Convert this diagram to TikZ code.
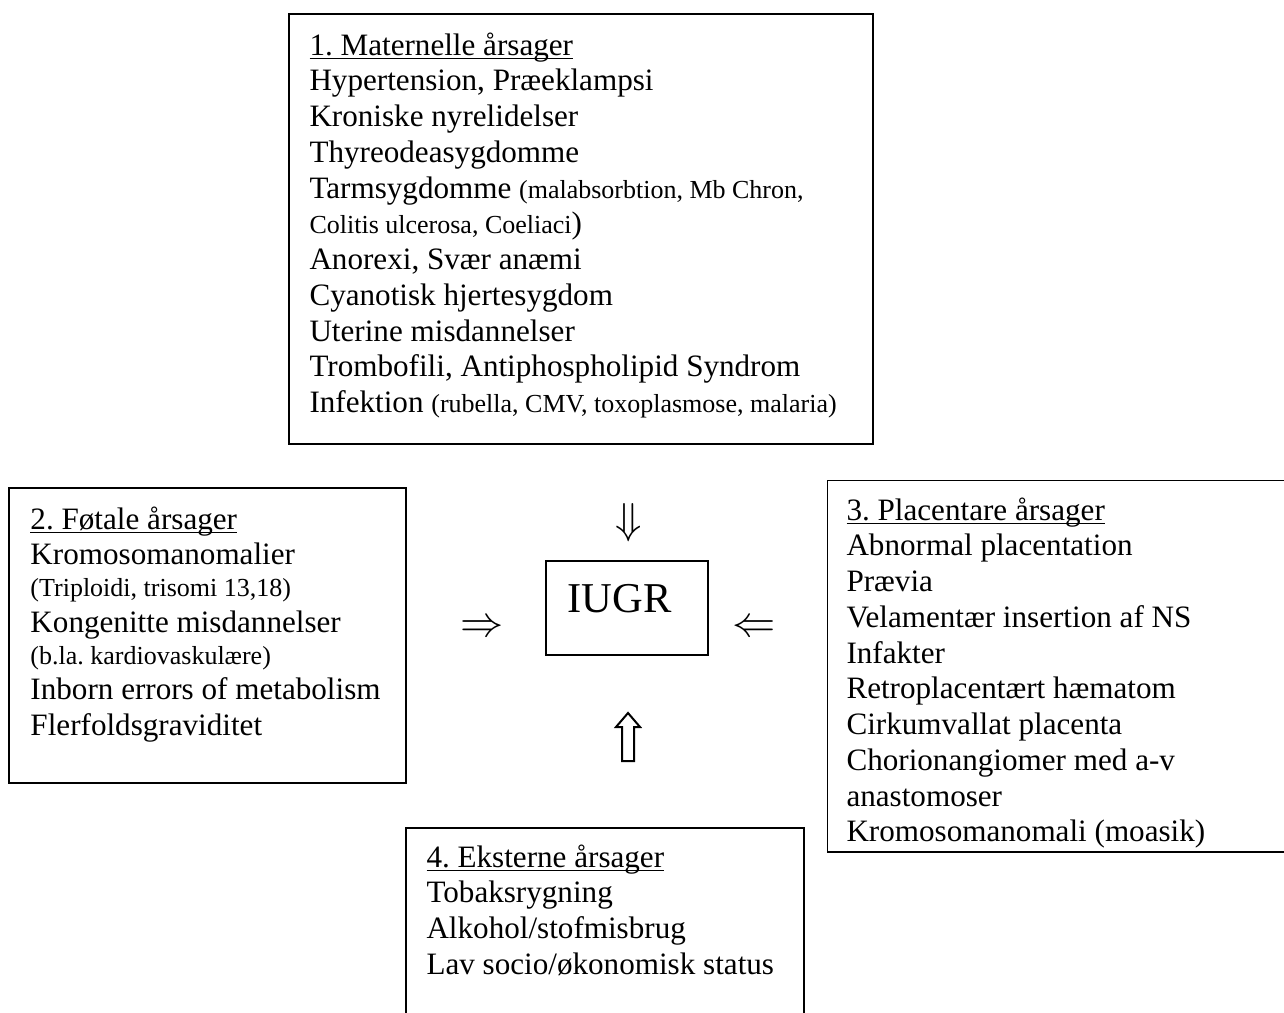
\documentclass[tikz,border=0pt]{standalone}
\usepackage{fontspec}
\setmainfont{Liberation Serif}
\frenchspacing
\tikzset{
  frame/.style={draw, line width=0.8pt},
  causes/.style={anchor=north west, inner sep=0pt, align=left,
    font=\fontsize{12.45}{14.3}\selectfont},
  glyph/.style={inner sep=0pt, font=\fontsize{17.28}{18}\selectfont}
}
\newcommand{\sm}[1]{{\fontsize{10.4}{12}\selectfont #1}}
\newcommand{\heading}[1]{\setbox0\hbox{#1}\rlap{\rule[-1.6pt]{\wd0}{0.6pt}}#1}
\begin{document}
\begin{tikzpicture}[x=0.4pt, y=-0.4pt]
                \useasboundingbox (0,0) rectangle (1284,1012);
                \clip (0,0) rectangle (1284,1012);

                \draw[frame] (289,14) rectangle (873,444);
                \node[causes] (mat) at (309,32) {\heading{1. Maternelle årsager}\\
                  Hypertension, Præeklampsi\\
                  Kroniske nyrelidelser\\
                  Thyreodeasygdomme\\
                  Tarmsygdomme \sm{(malabsorbtion, Mb Chron,}\\
                  \sm{Colitis ulcerosa, Coeliaci})\\
                  Anorexi, Svær anæmi\\
                  Cyanotisk hjertesygdom\\
                  Uterine misdannelser\\
                  Trombofili, Antiphospholipid Syndrom\\
                  Infektion \sm{(rubella, CMV, toxoplasmose, malaria)}};

                \draw[frame] (9,488) rectangle (406,783);
                \node[causes] (foet) at (30,506) {\heading{2. Føtale årsager}\\
                  Kromosomanomalier\\[-1.6pt]
                  \sm{(Triploidi, trisomi 13,18)}\\
                  Kongenitte misdannelser\\[-1.6pt]
                  \sm{(b.la. kardiovaskulære)}\\
                  Inborn errors of metabolism\\
                  Flerfoldsgraviditet};

                \begin{scope}
                  \clip (827,480) rectangle (1290,850);
                  \draw[frame] (827,480) rectangle (1300,852);
                  \node[causes] (plac) at (846,497) {\heading{3. Placentare årsager}\\
                    Abnormal placentation\\
                    Prævia\\
                    Velamentær insertion af NS\\
                    Infakter\\
                    Retroplacentært hæmatom\\
                    Cirkumvallat placenta\\
                    Chorionangiomer med a-v\\
                    anastomoser\\
                    Kromosomanomali (moasik)};
                \end{scope}
                \draw[frame] (827,852) -- (1290,852);

                \draw[frame] (406,828) rectangle (804,1030);
                \node[causes] (ekst) at (426,844) {\heading{4. Eksterne årsager}\\
                  Tobaksrygning\\
                  Alkohol/stofmisbrug\\
                  Lav socio/økonomisk status};

                \draw[frame] (546,561) rectangle (708,655);
                \node[anchor=base west, inner sep=0pt, font=\fontsize{17}{20}\selectfont] (iugr) at (567,612) {IUGR};

                \node[glyph] (down) at (629,523) {$\Downarrow$};
                \node[glyph] (right) at (482,629) {$\Rightarrow$};
                \node[glyph] (left) at (754,629) {$\Leftarrow$};
                \coordinate (up) at (628,737);
                \draw[line width=0.8pt] (up) ++(0,-24) -- ++(12,14) -- ++(-6,0) -- ++(0,34)
                  -- ++(-12,0) -- ++(0,-34) -- ++(-6,0) -- cycle;
            \end{tikzpicture}
\end{document}
